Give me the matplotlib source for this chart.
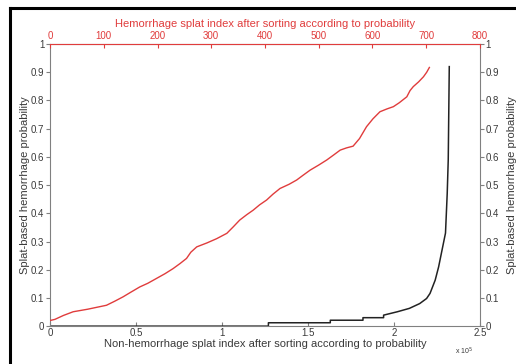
import matplotlib
matplotlib.use('Agg')
from matplotlib import pyplot as plt
from matplotlib.lines import Line2D

plt.rcParams['font.family'] = ['Liberation Sans', 'DejaVu Sans']

# Hemorrhage splats (red, top axis, index 0..800)
hem_index = [0, 9, 25, 43, 70, 105, 120, 136, 150, 167, 182, 198, 214, 229, 242, 254,
             262, 273, 292, 310, 329, 341, 353, 366, 378, 390, 403, 415, 428, 445,
             459, 471, 484, 500, 515, 528, 540, 552, 564, 576, 589, 601, 614, 627,
             639, 650, 664, 670, 676, 686, 695, 701, 706]
hem_prob = [0.02, 0.024, 0.038, 0.051, 0.06, 0.074, 0.088, 0.104, 0.12, 0.139, 0.152,
            0.169, 0.186, 0.204, 0.222, 0.240, 0.262, 0.281, 0.295, 0.31, 0.329, 0.352,
            0.376, 0.395, 0.411, 0.43, 0.447, 0.468, 0.488, 0.503, 0.518, 0.535, 0.553,
            0.571, 0.589, 0.607, 0.624, 0.632, 0.638, 0.665, 0.707, 0.735, 0.760, 0.770,
            0.778, 0.792, 0.813, 0.835, 0.849, 0.866, 0.884, 0.90, 0.917]

# Non-hemorrhage splats (black, bottom axis, index 0..2.5e5)
non_index = [0, 1.27e5, 1.27e5, 1.63e5, 1.63e5, 1.82e5, 1.82e5, 1.94e5, 1.94e5,
             2.02e5, 2.09e5, 2.15e5, 2.19e5, 2.21e5, 2.24e5, 2.26e5, 2.28e5, 2.30e5,
             2.31e5, 2.316e5, 2.322e5]
non_prob = [0, 0, 0.012, 0.012, 0.021, 0.021, 0.03, 0.03, 0.039,
            0.051, 0.063, 0.080, 0.098, 0.116, 0.163, 0.21, 0.27, 0.33,
            0.47, 0.59, 0.92]

y_ticks = [0, 0.1, 0.2, 0.3, 0.4, 0.5, 0.6, 0.7, 0.8, 0.9, 1]
y_labels = ['0', '0.1', '0.2', '0.3', '0.4', '0.5', '0.6', '0.7', '0.8', '0.9', '1']
bottom_ticks = [0, 0.5e5, 1e5, 1.5e5, 2e5, 2.5e5]
bottom_labels = ['0', '0.5', '1', '1.5', '2', '2.5']
top_ticks = [0, 100, 200, 300, 400, 500, 600, 700, 800]

red = '#e03c3c'
grey = '#808080'
txt = '#3a3a3a'

fig = plt.figure(figsize=(5.16, 3.64), dpi=100)
ax = fig.add_axes([0.097, 0.104, 0.833, 0.775])

# black curve on bottom axis
ax.plot(non_index, non_prob, color='#222222', lw=1.1)
ax.set_xlim(0, 2.5e5)
ax.set_ylim(0, 1)
ax.set_xticks(bottom_ticks)
ax.set_xticklabels(bottom_labels)
ax.set_yticks(y_ticks)
ax.set_yticklabels(y_labels)
ax.tick_params(axis='x', direction='in', length=3, pad=1, labelsize=7, colors=grey, labelcolor=txt)
ax.tick_params(axis='y', direction='out', length=3, pad=1, labelsize=7, colors=grey, labelcolor=txt,
               right=True, labelright=True)
for s in ax.spines.values():
    s.set_color(grey)
ax.set_xlabel('Non-hemorrhage splat index after sorting according to probability',
              fontsize=8, color=txt, labelpad=1)
ax.set_ylabel('Splat-based hemorrhage probability', fontsize=8, color=txt, labelpad=1)
ax.text(0.985, -0.09, r'x 10$^5$', transform=ax.transAxes, fontsize=5, color=txt,
        ha='right', va='center')

# right-side label
ax.text(1.075, 0.5, 'Splat-based hemorrhage probability', transform=ax.transAxes,
        rotation=90, fontsize=8, color=txt, ha='center', va='center')

# red curve on top axis
ax2 = ax.twiny()
ax2.plot(hem_index, hem_prob, color=red, lw=1.0)
ax2.set_xlim(0, 800)
ax2.set_xticks(top_ticks)
ax2.tick_params(axis='x', direction='in', length=3, pad=2, labelsize=7, colors=red)
ax2.spines['top'].set_color(red)
for k in ['left', 'right', 'bottom']:
    ax2.spines[k].set_visible(False)
ax2.set_xlabel('Hemorrhage splat index after sorting according to probability',
               fontsize=8, color=red, labelpad=3)

# black frame on left and top edge of the picture
fig.add_artist(Line2D([9.5 / 516, 9.5 / 516], [0, 1 - 7.5 / 364], color='black', lw=2.2,
                      transform=fig.transFigure))
fig.add_artist(Line2D([9.5 / 516, 1], [1 - 7.5 / 364, 1 - 7.5 / 364], color='black', lw=2.2,
                      transform=fig.transFigure))

fig.savefig('out.png', dpi=100)
